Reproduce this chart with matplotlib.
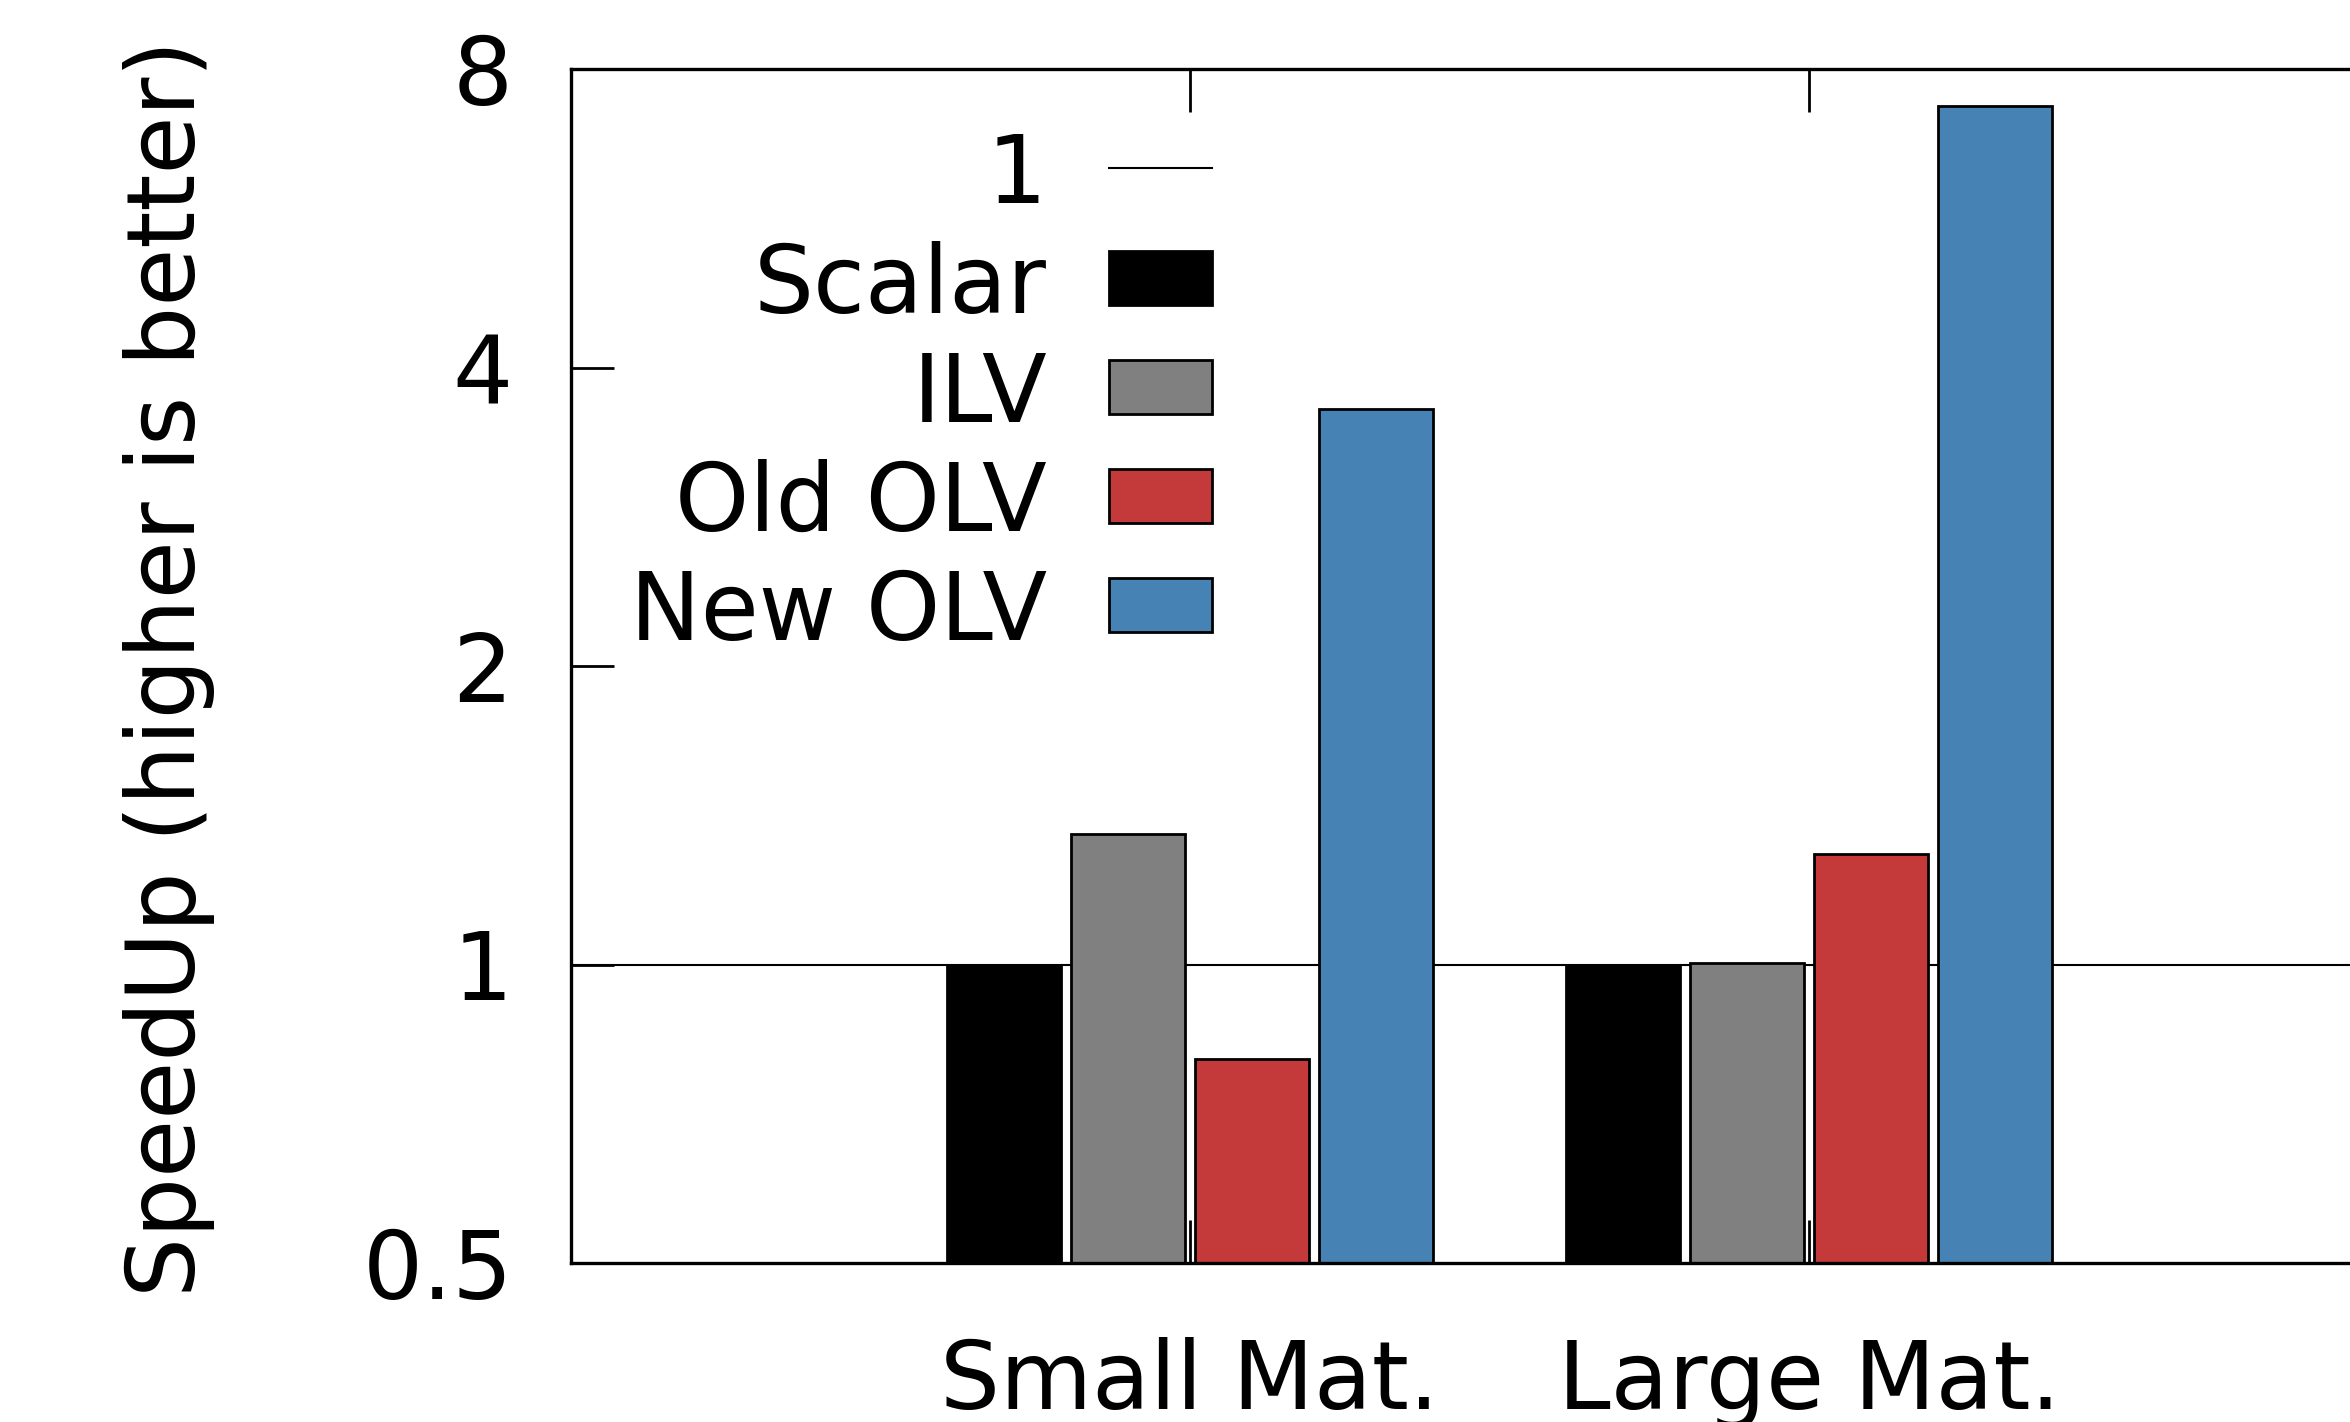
import matplotlib
matplotlib.use("Agg")
import matplotlib.pyplot as plt
from matplotlib.patches import Rectangle
from matplotlib.lines import Line2D
from matplotlib.ticker import FixedLocator, NullLocator

categories = ["Small Mat.", "Large Mat."]
series_names = ["Scalar", "ILV", "Old OLV", "New OLV"]
scalar = [1.0, 1.0]
ilv = [1.353, 1.003]
old_olv = [0.803, 1.294]
new_olv = [3.635, 7.34]
yticks = [0.5, 1, 2, 4, 8]
ytick_labels = ["0.5", "1", "2", "4", "8"]

colors = ["#000000", "#808080", "#C4393A", "#4682B4"]
series = [scalar, ilv, old_olv, new_olv]
offsets = [-0.3, -0.1, 0.1, 0.3]
bar_w = 0.184

W, H = 2350, 1422
fig = plt.figure(figsize=(W / 100, H / 100), dpi=100)
plt.rcParams['font.family'] = ['DejaVu Sans']
FS = 68

ax_left = 571 / W
ax_bottom = 1 - 1263 / H
ax_height = (1263 - 69) / H
unit = 619 / W
ax = fig.add_axes([ax_left, ax_bottom, 4 * unit, ax_height])
ax.set_xlim(-1, 3)
ax.set_yscale("log", base=2)
ax.set_ylim(0.5, 8)

ax.axhline(1, color="black", lw=1.5, zorder=1)
xs = list(range(len(categories)))
for vals, off, c in zip(series, offsets, colors):
    ax.bar([x + off for x in xs], [v - 0.5 for v in vals], bottom=0.5,
           width=bar_w, color=c, edgecolor="black", linewidth=2.0, zorder=2)

ax.set_axisbelow(True)
ax.yaxis.set_major_locator(FixedLocator(yticks))
ax.yaxis.set_minor_locator(NullLocator())
ax.set_yticklabels(ytick_labels)
ax.set_xticks(xs)
ax.set_xticklabels(categories)
ax.tick_params(axis="y", direction="in", length=31, width=2.0, labelsize=FS, pad=42)
ax.tick_params(axis="x", direction="in", length=31, width=2.0, labelsize=FS, pad=53,
               top=True)
for s in ax.spines.values():
    s.set_linewidth(2.4)

fig.text(169 / W, 1 - 668 / H, "SpeedUp (higher is better)", rotation=90,
         ha="center", va="center", fontsize=FS)

# legend (gnuplot style: right-aligned text, sample on the right)
text_right = 1047 / W
box_l, box_r = 1109 / W, 1212 / W
box_h = 54 / H
rows = [168, 278, 387, 496, 605]
labels = ["1"] + series_names
for i, (r, lab) in enumerate(zip(rows, labels)):
    yb = 1 - (r + 35) / H
    fig.text(text_right, yb, lab, ha="right", va="baseline", fontsize=FS)
    yc = 1 - r / H
    if i == 0:
        fig.add_artist(Line2D([box_l, box_r], [yc, yc], color="black", lw=1.5,
                              transform=fig.transFigure))
    else:
        fig.add_artist(Rectangle((box_l, yc - box_h / 2), box_r - box_l, box_h,
                                 facecolor=colors[i - 1], edgecolor="black",
                                 linewidth=2.0, transform=fig.transFigure))

fig.savefig("out.png", dpi=100)
